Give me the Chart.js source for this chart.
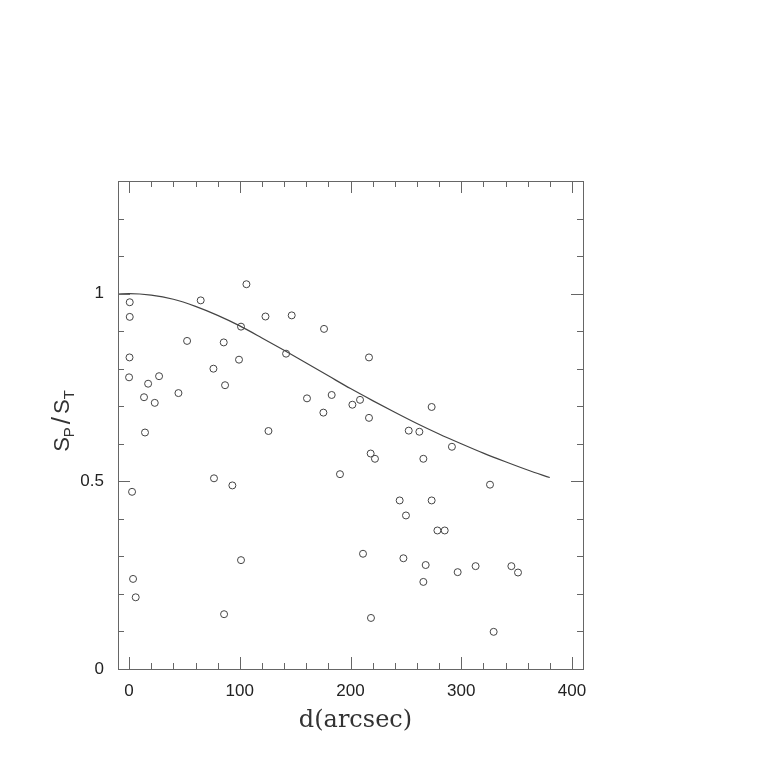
<!DOCTYPE html>
<html>
<head>
<meta charset="utf-8">
<script src="https://cdn.jsdelivr.net/npm/chart.js@4/dist/chart.umd.min.js"></script>
<style>
  body { margin: 0; background: #fff; }
  #wrap { width: 763px; height: 763px; }
</style>
</head>
<body>
<div id="wrap"><canvas id="c"></canvas></div>
<script>
// measured points: distance (arcsec) and S_P/S_T
const dist = [0.6, 0.6, 0.4, 0, 17.2, 13.5, 23.2, 27.1, 44.6, 52.4, 64.7, 76.2, 85.5, 86.7, 99.3,
  101.1, 106, 123.2, 146.9, 141.8, 160.7, 176.1, 183, 175.5, 216.7, 201.7, 208.6, 273.3, 216.7,
  252.6, 262.2, 291.6, 218.2, 222.1, 265.8, 190.5, 326, 244.4, 273.3, 250.1, 278.5, 285.1, 211.3,
  247.8, 267.9, 313, 345.3, 296.8, 351.3, 265.8, 218.5, 329.3, 14.4, 125.9, 76.7, 93.3, 2.7,
  101.1, 3.6, 6, 85.8];
const ratio = [0.977, 0.938, 0.830, 0.777, 0.760, 0.724, 0.709, 0.780, 0.735, 0.874, 0.982, 0.800,
  0.870, 0.756, 0.824, 0.912, 1.025, 0.939, 0.942, 0.840, 0.721, 0.906, 0.730, 0.683, 0.830, 0.704,
  0.717, 0.698, 0.669, 0.635, 0.632, 0.592, 0.574, 0.560, 0.560, 0.519, 0.491, 0.449, 0.449, 0.409,
  0.369, 0.369, 0.307, 0.295, 0.277, 0.274, 0.274, 0.258, 0.257, 0.232, 0.136, 0.099, 0.630, 0.634,
  0.508, 0.489, 0.472, 0.290, 0.240, 0.191, 0.146];

// model curve
const curveX = [-10, 0, 20, 40, 60, 80, 100, 120, 140, 160, 180, 200, 220, 240, 260, 280, 300, 320, 340, 360, 380];
const curveY = [0.999, 1.0, 0.996, 0.985, 0.966, 0.942, 0.914, 0.882, 0.849, 0.815, 0.781, 0.747,
  0.715, 0.684, 0.654, 0.626, 0.600, 0.575, 0.552, 0.530, 0.510];

// ticks
const xLabels = [0, 100, 200, 300, 400];
const xMinor = [0, 20, 40, 60, 80, 100, 120, 140, 160, 180, 200, 220, 240, 260, 280, 300, 320, 340, 360, 380, 400];
const yLabels = [0, 0.5, 1];
const yMinor = [0.1, 0.2, 0.3, 0.4, 0.5, 0.6, 0.7, 0.8, 0.9, 1.0, 1.1, 1.2];

const ink = "#444";

// box, inward ticks on all four sides, axis titles
const frame = {
  id: "frame",
  afterDraw(chart) {
    const { ctx, chartArea: a, scales: { x, y } } = chart;
    ctx.save();
    ctx.strokeStyle = "#666";
    ctx.lineWidth = 1;
    ctx.strokeRect(a.left + 0.5, a.top + 0.5, a.right - a.left, a.bottom - a.top);
    ctx.beginPath();
    xMinor.forEach(v => {
      const px = Math.round(x.getPixelForValue(v)) + 0.5;
      const len = v % 100 === 0 ? 12 : 6;
      ctx.moveTo(px, a.bottom); ctx.lineTo(px, a.bottom - len);
      ctx.moveTo(px, a.top); ctx.lineTo(px, a.top + len);
    });
    yMinor.forEach(v => {
      const py = Math.round(y.getPixelForValue(v)) + 0.5;
      const len = Math.abs(v * 2 - Math.round(v * 2)) < 1e-6 ? 12 : 6;
      ctx.moveTo(a.left, py); ctx.lineTo(a.left + len, py);
      ctx.moveTo(a.right, py); ctx.lineTo(a.right - len, py);
    });
    ctx.stroke();

    // x title
    ctx.fillStyle = "#333";
    ctx.font = "24px 'DejaVu Serif'";
    ctx.textAlign = "center";
    ctx.textBaseline = "alphabetic";
    ctx.fillText("d(arcsec)", (a.left + a.right) / 2 + 5, 727);

    // y title S_P/S_T, rotated
    ctx.translate(69, 421);
    ctx.rotate(-Math.PI / 2);
    const big = "22px 'Liberation Sans'";
    const small = "15px 'Liberation Sans'";
    const slash = "26px 'Liberation Sans'";
    const parts = [["S", big, 0, 0], ["P", small, 5, 3], ["/", slash, 1, 3], ["S", big, 0, 0], ["T", small, 5, 0]];
    let total = 0;
    parts.forEach(p => { ctx.font = p[1]; total += ctx.measureText(p[0]).width + p[3]; });
    let cx = -total / 2;
    ctx.textAlign = "left";
    parts.forEach(p => {
      ctx.font = p[1];
      ctx.fillText(p[0], cx, p[2]);
      cx += ctx.measureText(p[0]).width + p[3];
    });
    ctx.restore();
  }
};

new Chart(document.getElementById("c"), {
  type: "scatter",
  data: {
    datasets: [
      {
        data: dist.map((d, i) => ({ x: d, y: ratio[i] })),
        pointStyle: "circle",
        pointRadius: 3.5,
        backgroundColor: "rgba(0,0,0,0)",
        borderColor: ink,
        borderWidth: 1,
      },
      {
        type: "line",
        data: curveX.map((d, i) => ({ x: d, y: curveY[i] })),
        borderColor: ink,
        borderWidth: 1.2,
        pointRadius: 0,
        cubicInterpolationMode: "monotone",
        fill: false,
      },
    ],
  },
  options: {
    responsive: true,
    maintainAspectRatio: false,
    animation: false,
    layout: { padding: { left: 40, right: 180, top: 181, bottom: 60 } },
    plugins: { legend: { display: false }, tooltip: { enabled: false } },
    scales: {
      x: {
        type: "linear",
        min: -10,
        max: 410,
        grid: { display: false, drawTicks: false },
        border: { display: false },
        afterBuildTicks: s => { s.ticks = xLabels.map(v => ({ value: v })); },
        afterFit: s => { s.height = 34; },
        ticks: { padding: 12, color: "#222", font: { family: "Liberation Sans", size: 17 }, callback: v => String(v) },
      },
      y: {
        type: "linear",
        min: 0,
        max: 1.3,
        grid: { display: false, drawTicks: false },
        border: { display: false },
        afterBuildTicks: s => { s.ticks = yLabels.map(v => ({ value: v })); },
        afterFit: s => { s.width = 78; },
        ticks: { padding: 14, color: "#222", font: { family: "Liberation Sans", size: 17 }, callback: v => String(v) },
      },
    },
  },
  plugins: [frame],
});
</script>
</body>
</html>
